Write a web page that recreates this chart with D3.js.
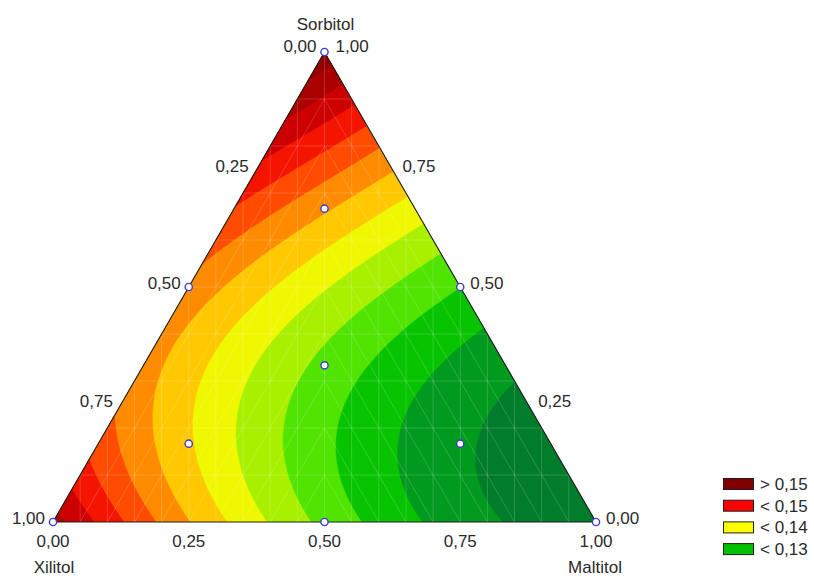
<!DOCTYPE html>
<html>
<head>
<meta charset="utf-8">
<script src="https://cdn.jsdelivr.net/npm/d3@7"></script>
<style>
  html, body { margin: 0; padding: 0; background: #fff; }
  svg text { font-family: "Liberation Sans", Arial, sans-serif; fill: #2a2a2a; }
</style>
</head>
<body>
<script>
// Mixture components (vertex order: top, bottom-left, bottom-right)
const components = ["Sorbitol", "Xilitol", "Maltitol"];

// Full cubic mixture model coefficients
const linearCoef  = [0.1567, 0.1536, 0.1258];   // Sorbitol, Xilitol, Maltitol
const binaryCoef  = [-0.0433, -0.0349, -0.0216]; // S·X, S·M, X·M
const cubicCoef   = [0.0178, 0.0026, 0.0];       // S·X·(S−X), S·M·(S−M), X·M·(X−M)
const ternaryCoef = 0.0;                         // S·X·M

// Experimental design points (Sorbitol, Xilitol, Maltitol)
const designSorbitol = [1, 0, 0, 0.5, 0.5, 0, 1/3, 2/3, 1/6, 1/6];
const designXilitol  = [0, 1, 0, 0.5, 0, 0.5, 1/3, 1/6, 2/3, 1/6];
const designMaltitol = [0, 0, 1, 0, 0.5, 0.5, 1/3, 1/6, 1/6, 2/3];

// Contour levels and band fills (first fill lies below the lowest level)
const levels = [0.1225, 0.1250, 0.1275, 0.1300, 0.1325, 0.1350, 0.1375,
                0.1400, 0.1425, 0.1450, 0.1475, 0.1500, 0.1525, 0.1550];
const bandColors = ["#006a2a", "#00702e", "#007c2a", "#009a1e", "#08c400",
                    "#50e400", "#a8f000", "#f0f800", "#ffc800", "#ff8c00",
                    "#ff4c00", "#f41400", "#cc0000", "#aa0000", "#920000"];

// Axis ticks
const tickValues = [0, 0.25, 0.5, 0.75, 1];
const tickLabels = ["0,00", "0,25", "0,50", "0,75", "1,00"];

// Legend entries
const legendLabels = ["> 0,15", "< 0,15", "< 0,14", "< 0,13"];
const legendColors = ["#800000", "#ff0000", "#ffff00", "#00c000"];

const W = 814, H = 577;
const xBase = d3.scaleLinear().domain([0, 1]).range([53, 596]);   // position along the base
const ySorb = d3.scaleLinear().domain([0, 1]).range([522, 52]);   // Sorbitol fraction -> height

function toXY(s, x, m) {
  return [xBase(m + s / 2), ySorb(s)];
}
function model(s, x, m) {
  return linearCoef[0] * s + linearCoef[1] * x + linearCoef[2] * m +
         binaryCoef[0] * s * x + binaryCoef[1] * s * m + binaryCoef[2] * x * m +
         cubicCoef[0] * s * x * (s - x) + cubicCoef[1] * s * m * (s - m) +
         cubicCoef[2] * x * m * (x - m) +
         ternaryCoef * s * x * m;
}

const svg = d3.select("body").append("svg")
  .attr("width", W).attr("height", H);

const vTop = toXY(1, 0, 0), vLeft = toXY(0, 1, 0), vRight = toXY(0, 0, 1);
const triPath = `M${vTop}L${vLeft}L${vRight}Z`;

svg.append("clipPath").attr("id", "tri")
  .append("path").attr("d", triPath);

// Sample the response surface on a pixel grid covering the triangle
const x0 = 53, y0 = 52;
const nx = 545, ny = 472;
const values = new Float64Array(nx * ny);
for (let j = 0; j < ny; j++) {
  const s = ySorb.invert(y0 + j);
  for (let i = 0; i < nx; i++) {
    const m = xBase.invert(x0 + i) - s / 2;
    values[j * nx + i] = model(s, 1 - s - m, m);
  }
}

const color = d3.scaleThreshold().domain(levels).range(bandColors);
const contours = d3.contours().size([nx, ny]).thresholds(levels)(values);
const proj = d3.geoPath(d3.geoIdentity().translate([x0 - 0.5, y0 - 0.5]));

const plot = svg.append("g").attr("clip-path", "url(#tri)");
plot.append("path").attr("d", triPath).attr("fill", bandColors[0]);
plot.selectAll("path.band")
  .data(contours)
  .join("path")
  .attr("class", "band")
  .attr("d", proj)
  .attr("fill", d => color(d.value))
  .attr("stroke", d => color(d.value))
  .attr("stroke-width", 0.4);

// Faint seams of the surface triangulation
const mesh = plot.append("g")
  .attr("stroke", "#ffffff").attr("stroke-opacity", 0.22)
  .attr("stroke-width", 0.8).attr("fill", "none");
const meshSteps = d3.range(1, 20).map(k => k / 20);
d3.range(1, 10).map(k => k / 10).forEach(s => {
  const a = toXY(s, 1 - s, 0), b = toXY(s, 0, 1 - s);
  mesh.append("line").attr("x1", a[0]).attr("y1", a[1]).attr("x2", b[0]).attr("y2", b[1]);
});
meshSteps.forEach(t => {
  const px = xBase(t);
  mesh.append("line").attr("x1", px).attr("y1", 52).attr("x2", px).attr("y2", 522);
});
// constant-Maltitol seams on the Xilitol side, constant-Xilitol seams on the Maltitol side
meshSteps.forEach(t => {
  if (t < 0.5) {
    const c = toXY(1 - 2 * t, t, t);
    const b = toXY(0, 1 - t, t);
    const d = toXY(0, t, 1 - t);
    mesh.append("line").attr("x1", c[0]).attr("y1", c[1]).attr("x2", b[0]).attr("y2", b[1]);
    mesh.append("line").attr("x1", c[0]).attr("y1", c[1]).attr("x2", d[0]).attr("y2", d[1]);
  }
});

// Triangle outline
svg.append("path").attr("d", triPath)
  .attr("fill", "none").attr("stroke", "#1e1e1e").attr("stroke-width", 1.1);

// Edge tick labels
const fs = 17;
const labels = svg.append("g").attr("font-size", fs);
tickValues.forEach((v, i) => {
  // Xilitol on the left edge (0 at top, 1 at bottom-left)
  const pl = toXY(1 - v, v, 0);
  labels.append("text").attr("x", pl[0] - 8).attr("y", pl[1] + (v === 0 ? 0 : 2))
    .attr("text-anchor", "end").text(tickLabels[i]);
  // Sorbitol on the right edge (1 at top, 0 at bottom-right)
  const pr = toXY(v, 0, 1 - v);
  labels.append("text").attr("x", pr[0] + (v === 1 ? 11 : 10)).attr("y", pr[1] + (v === 1 ? 0 : 2))
    .text(tickLabels[i]);
  // Maltitol along the base
  const pb = toXY(0, 1 - v, v);
  labels.append("text").attr("x", pb[0]).attr("y", pb[1] + 25)
    .attr("text-anchor", "middle").text(tickLabels[i]);
});

// Component names at the vertices
labels.append("text").attr("x", vTop[0] + 1).attr("y", 30).attr("text-anchor", "middle").text(components[0]);
labels.append("text").attr("x", vLeft[0] + 1).attr("y", 573).attr("text-anchor", "middle").text(components[1]);
labels.append("text").attr("x", vRight[0] - 1).attr("y", 573).attr("text-anchor", "middle").text(components[2]);

// Design points
svg.append("g").selectAll("circle")
  .data(designSorbitol.map((s, i) => toXY(s, designXilitol[i], designMaltitol[i])))
  .join("circle")
  .attr("cx", d => d[0]).attr("cy", d => d[1]).attr("r", 3.6)
  .attr("fill", "#ffffff").attr("stroke", "#3b3bc8").attr("stroke-width", 1.4);

// Legend
const legend = svg.append("g").attr("font-size", fs);
legendLabels.forEach((lab, i) => {
  const y = 478 + i * 21.7;
  legend.append("rect").attr("x", 723.5).attr("y", y + 0.5).attr("width", 30).attr("height", 11)
    .attr("fill", legendColors[i]).attr("stroke", "#202020").attr("stroke-width", 1);
  legend.append("text").attr("x", 760).attr("y", y + 12).text(lab);
});
</script>
</body>
</html>
